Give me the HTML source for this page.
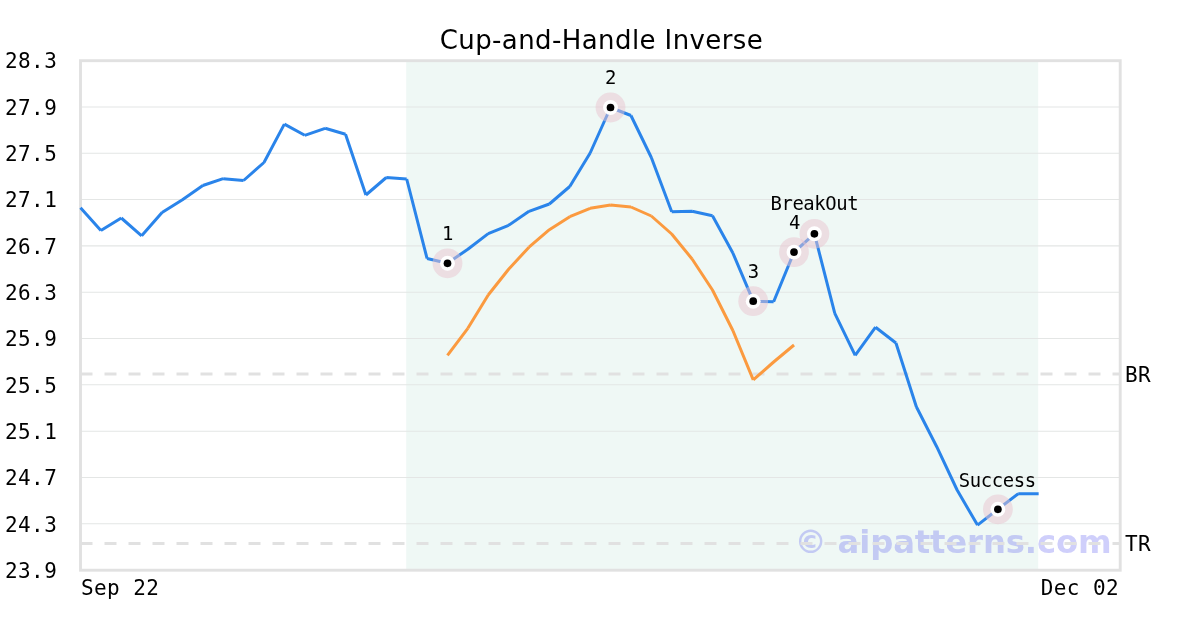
<!DOCTYPE html>
<html lang="en"><head><meta charset="utf-8"><title>Cup-and-Handle Inverse</title>
<style>html,body{margin:0;padding:0;background:#fff}body{width:1200px;height:630px;overflow:hidden}svg{display:block}.m{font-family:"DejaVu Sans Mono","Liberation Mono",monospace;fill:#000}.s{font-family:"DejaVu Sans","Liberation Sans",sans-serif;fill:#000}</style></head><body>
<svg width="1200" height="630" viewBox="0 0 1200 630">
<rect width="1200" height="630" fill="#fff"/>
<rect x="406.2" y="60.7" width="632" height="509.5" fill="#eff8f5"/>
<path d="M80.5 106.92H1120.2 M80.5 153.24H1120.2 M80.5 199.55H1120.2 M80.5 245.87H1120.2 M80.5 292.19H1120.2 M80.5 338.51H1120.2 M80.5 384.83H1120.2 M80.5 431.15H1120.2 M80.5 477.46H1120.2 M80.5 523.78H1120.2" stroke="#e4e6e5" stroke-width="1.05" fill="none"/>
<rect x="80.5" y="60.7" width="1039.7" height="509.5" fill="none" stroke="#e1e1e1" stroke-width="2.9"/>
<text x="794.4" y="552.5" class="s" style="font-weight:bold;font-size:32.3px;fill:#4646f0;fill-opacity:0.26" textLength="317.2" lengthAdjust="spacing">© aipatterns.com</text>
<path d="M80.5 374.1H1120.2" stroke="#e1e1e1" stroke-width="3" stroke-dasharray="12 12" fill="none"/>
<path d="M80.5 543.45H1120.2" stroke="#e1e1e1" stroke-width="3" stroke-dasharray="12 12" fill="none"/>
<path d="M80.50 207.80L100.89 230.50 M100.89 230.50L121.27 218.00 M121.27 218.00L141.66 235.80 M141.66 235.80L162.05 212.50 M162.05 212.50L182.43 199.70 M182.43 199.70L202.82 185.50 M202.82 185.50L223.20 178.70 M223.20 178.70L243.59 180.50 M243.59 180.50L263.98 162.50 M263.98 162.50L284.36 124.10 M284.36 124.10L304.75 135.30 M304.75 135.30L325.14 128.30 M325.14 128.30L345.52 134.20 M345.52 134.20L365.91 195.00 M365.91 195.00L386.29 177.50 M386.29 177.50L406.68 179.00 M406.68 179.00L427.07 258.50 M427.07 258.50L447.45 263.30 M447.45 263.30L467.84 249.20 M467.84 249.20L488.23 233.60 M488.23 233.60L508.61 225.30 M508.61 225.30L529.00 211.30 M529.00 211.30L549.38 204.00 M549.38 204.00L569.77 186.50 M569.77 186.50L590.16 153.00 M590.16 153.00L610.54 107.50 M610.54 107.50L630.93 115.50 M630.93 115.50L651.32 157.50 M651.32 157.50L671.70 211.70 M671.70 211.70L692.09 211.30 M692.09 211.30L712.47 215.70 M712.47 215.70L732.86 253.00 M732.86 253.00L753.25 301.20 M753.25 301.20L773.63 301.70 M773.63 301.70L794.02 252.10 M794.02 252.10L814.41 233.80 M814.41 233.80L834.79 313.30 M834.79 313.30L855.18 355.30 M855.18 355.30L875.56 327.20 M875.56 327.20L895.95 343.00 M895.95 343.00L916.34 406.70 M916.34 406.70L936.72 446.70 M936.72 446.70L957.11 490.00 M957.11 490.00L977.50 525.10 M977.50 525.10L997.88 509.30 M997.88 509.30L1018.27 493.70 M1018.27 493.70L1038.65 493.70" fill="none" stroke="#2a84ea" stroke-width="3" stroke-linecap="butt"/>
<path d="M447.45 355.30L467.84 328.30 M467.84 328.30L488.23 295.00 M488.23 295.00L508.61 269.20 M508.61 269.20L529.00 247.20 M529.00 247.20L549.38 229.70 M549.38 229.70L569.77 216.70 M569.77 216.70L590.16 208.30 M590.16 208.30L610.54 205.00 M610.54 205.00L630.93 207.00 M630.93 207.00L651.32 216.00 M651.32 216.00L671.70 234.00 M671.70 234.00L692.09 259.00 M692.09 259.00L712.47 290.00 M712.47 290.00L732.86 330.50 M732.86 330.50L753.25 379.90 M753.25 379.90L773.63 362.00 M773.63 362.00L794.02 345.00" fill="none" stroke="#fb9a3f" stroke-width="3" stroke-linecap="butt"/>
<circle cx="447.5" cy="263.3" r="14.9" fill="#e9c3d0" fill-opacity="0.5"/>
<circle cx="610.5" cy="107.5" r="14.9" fill="#e9c3d0" fill-opacity="0.5"/>
<circle cx="753.2" cy="301.2" r="14.9" fill="#e9c3d0" fill-opacity="0.5"/>
<circle cx="794.0" cy="252.1" r="14.9" fill="#e9c3d0" fill-opacity="0.5"/>
<circle cx="814.4" cy="233.8" r="14.9" fill="#e9c3d0" fill-opacity="0.5"/>
<circle cx="997.9" cy="509.3" r="14.9" fill="#e9c3d0" fill-opacity="0.5"/>
<circle cx="447.5" cy="263.3" r="7.45" fill="#fff"/>
<circle cx="610.5" cy="107.5" r="7.45" fill="#fff"/>
<circle cx="753.2" cy="301.2" r="7.45" fill="#fff"/>
<circle cx="794.0" cy="252.1" r="7.45" fill="#fff"/>
<circle cx="814.4" cy="233.8" r="7.45" fill="#fff"/>
<circle cx="997.9" cy="509.3" r="7.45" fill="#fff"/>
<circle cx="447.5" cy="263.3" r="3.85" fill="#000"/>
<circle cx="610.5" cy="107.5" r="3.85" fill="#000"/>
<circle cx="753.2" cy="301.2" r="3.85" fill="#000"/>
<circle cx="794.0" cy="252.1" r="3.85" fill="#000"/>
<circle cx="814.4" cy="233.8" r="3.85" fill="#000"/>
<circle cx="997.9" cy="509.3" r="3.85" fill="#000"/>
<text x="442.0" y="239.5" class="m" font-size="18.9" letter-spacing="-0.38">1</text>
<text x="605.0" y="83.7" class="m" font-size="18.9" letter-spacing="-0.38">2</text>
<text x="747.7" y="278.4" class="m" font-size="18.9" letter-spacing="-0.38">3</text>
<text x="789.1" y="229.2" class="m" font-size="18.9" letter-spacing="-0.38">4</text>
<text x="770.4" y="210.0" class="m" font-size="18.9" letter-spacing="-0.38">BreakOut</text>
<text x="958.7" y="486.6" class="m" font-size="18.9" letter-spacing="-0.38">Success</text>
<text x="5" y="68.3" class="m" font-size="21" letter-spacing="0.4">28.3</text>
<text x="5" y="114.6" class="m" font-size="21" letter-spacing="0.4">27.9</text>
<text x="5" y="160.9" class="m" font-size="21" letter-spacing="0.4">27.5</text>
<text x="5" y="207.3" class="m" font-size="21" letter-spacing="0.4">27.1</text>
<text x="5" y="253.6" class="m" font-size="21" letter-spacing="0.4">26.7</text>
<text x="5" y="299.9" class="m" font-size="21" letter-spacing="0.4">26.3</text>
<text x="5" y="346.2" class="m" font-size="21" letter-spacing="0.4">25.9</text>
<text x="5" y="392.5" class="m" font-size="21" letter-spacing="0.4">25.5</text>
<text x="5" y="438.8" class="m" font-size="21" letter-spacing="0.4">25.1</text>
<text x="5" y="485.2" class="m" font-size="21" letter-spacing="0.4">24.7</text>
<text x="5" y="531.5" class="m" font-size="21" letter-spacing="0.4">24.3</text>
<text x="5" y="577.8" class="m" font-size="21" letter-spacing="0.4">23.9</text>
<text x="80.9" y="594.6" class="m" font-size="21" letter-spacing="0.42">Sep 22</text>
<text x="1040.75" y="594.6" class="m" font-size="21" letter-spacing="0.4">Dec 02</text>
<text x="1125" y="381.5" class="m" font-size="21" letter-spacing="0.4">BR</text>
<text x="1125" y="550.8" class="m" font-size="21" letter-spacing="0.4">TR</text>
<text x="439.7" y="48.9" class="s" font-size="26" letter-spacing="0.41">Cup-and-Handle Inverse</text>
</svg></body></html>
